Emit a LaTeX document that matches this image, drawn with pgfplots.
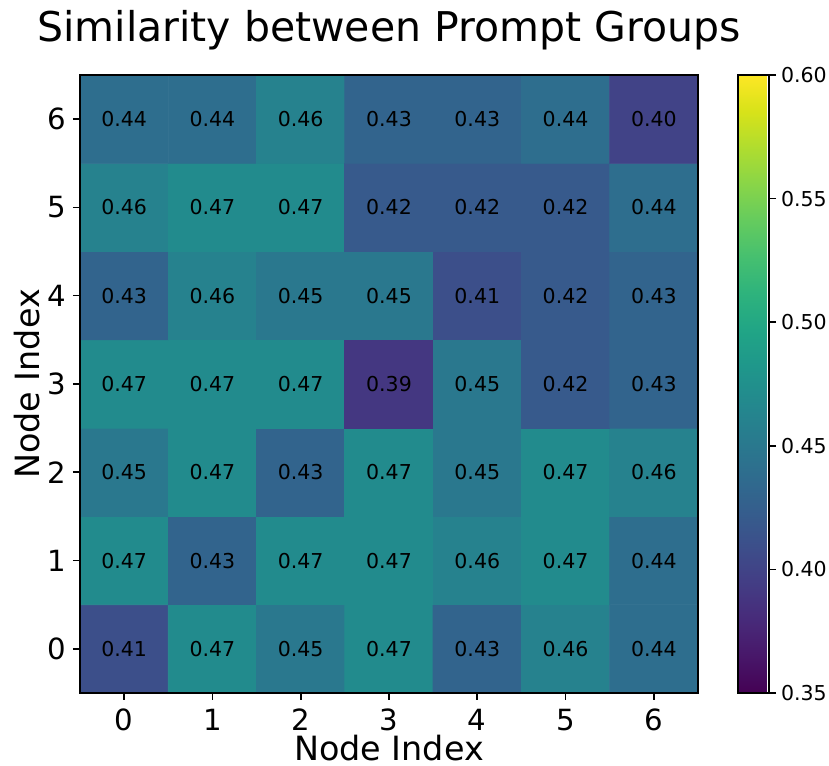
\documentclass[border=0pt]{standalone}
\usepackage{pgfplots}
\pgfplotsset{compat=1.18}
\usepackage{pgfplotstable}
\usepackage{fontspec}
\setmainfont{DejaVu Sans}
\pgfplotstableread{
x y c
0 0 0.41
1 0 0.47
2 0 0.45
3 0 0.47
4 0 0.43
5 0 0.46
6 0 0.44
0 1 0.47
1 1 0.43
2 1 0.47
3 1 0.47
4 1 0.46
5 1 0.47
6 1 0.44
0 2 0.45
1 2 0.47
2 2 0.43
3 2 0.47
4 2 0.45
5 2 0.47
6 2 0.46
0 3 0.47
1 3 0.47
2 3 0.47
3 3 0.39
4 3 0.45
5 3 0.42
6 3 0.43
0 4 0.43
1 4 0.46
2 4 0.45
3 4 0.45
4 4 0.41
5 4 0.42
6 4 0.43
0 5 0.46
1 5 0.47
2 5 0.47
3 5 0.42
4 5 0.42
5 5 0.42
6 5 0.44
0 6 0.44
1 6 0.44
2 6 0.46
3 6 0.43
4 6 0.43
5 6 0.44
6 6 0.40
}\datatable
\begin{document}
\begin{tikzpicture}
\begin{axis}[
  name=main,
  scale only axis,
  width=309pt, height=309pt,
  xmin=-0.5, xmax=6.5, ymin=-0.5, ymax=6.5,
  enlargelimits=false,
  axis on top,
  axis line style={line width=0.8pt},
  colormap/viridis,
  point meta min=0.35, point meta max=0.60,
  xtick={0,...,6}, ytick={0,...,6},
  tick align=outside,
  xtick pos=bottom, ytick pos=left,
  major tick length=3.5pt,
  every tick/.style={black, line width=0.8pt},
  /pgf/number format/assume math mode=true,
  ticklabel style={font=\fontsize{14.6}{17}\selectfont},
  xticklabel style={yshift=-1pt},
  title={Similarity between Prompt Groups},
  title style={font=\fontsize{20.5}{24}\selectfont, at={([yshift=10.5pt]axis description cs:0.5,1)}, anchor=base},
  xlabel={Node Index},
  ylabel={Node Index},
  label style={font=\fontsize{16.7}{19}\selectfont},
  xlabel style={at={([yshift=-34pt]axis description cs:0.5,0)}, anchor=base},
  ylabel style={at={([xshift=-20pt]axis description cs:0,0.5)}, anchor=base, rotate=0},
  colorbar,
  colorbar style={
    at={(parent axis.north east)}, anchor=north west, xshift=11.5pt,
    width=15.5pt,
    scale only axis,
    ytick={0.35,0.40,...,0.61},
    yticklabel style={font=\fontsize{10.25}{12}\selectfont, xshift=-1pt, /pgf/number format/.cd, fixed, fixed zerofill, precision=2},
    /pgf/number format/assume math mode=true,
    axis line style={line width=0.8pt},
    major tick length=3.5pt,
    tick align=outside,
    every tick/.style={black, line width=0.8pt},
    ytick pos=right,
  },
]
\addplot[matrix plot*, mesh/cols=7, point meta=explicit] table[x=x, y=y, meta=c] {\datatable};
\addplot[only marks, mark=none, point meta=explicit,
  nodes near coords={\pgfmathprintnumber[fixed,fixed zerofill,precision=2]{\pgfplotspointmeta}},
  every node near coord/.append style={anchor=center, black, font=\fontsize{10.25}{12}\selectfont}]
  table[x=x, y=y, meta=c] {\datatable};
\end{axis}
\pgfresetboundingbox
\path ([xshift=-40pt, yshift=-36.5pt]main.south west) rectangle ([xshift=65.5pt, yshift=37.5pt]main.north east);
\end{tikzpicture}
\end{document}
